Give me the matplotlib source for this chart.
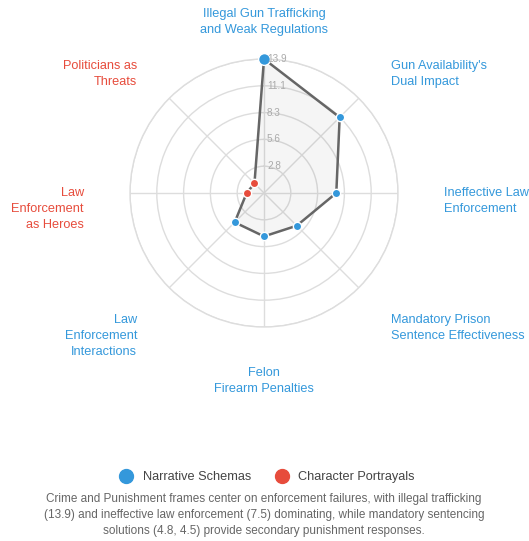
import numpy as np
import matplotlib
matplotlib.use("Agg")
import matplotlib.pyplot as plt
from matplotlib.lines import Line2D
import matplotlib.transforms as mtransforms

plt.rcParams['font.family'] = ['Liberation Sans', 'DejaVu Sans']

categories = [
    "Illegal Gun Trafficking\nand Weak Regulations",
    "Gun Availability's\nDual Impact",
    "Ineffective Law\nEnforcement",
    "Mandatory Prison\nSentence Effectiveness",
    "Felon\nFirearm Penalties",
    "Law\nEnforcement\nInteractions",
    "Law\nEnforcement\nas Heroes",
    "Politicians as\nThreats",
]
values = [13.9, 11.1, 7.5, 4.8, 4.5, 4.3, 1.8, 1.4]
groups = ["Narrative Schemas"] * 6 + ["Character Portrayals"] * 2
group_names = ["Narrative Schemas", "Character Portrayals"]
ring_values = [2.78, 5.56, 8.34, 11.12, 13.9]
caption = ("Crime and Punishment frames center on enforcement failures, with illegal trafficking\n"
           "(13.9) and ineffective law enforcement (7.5) dominating, while mandatory sentencing\n"
           "solutions (4.8, 4.5) provide secondary punishment responses.")

colors = {"Narrative Schemas": "#3498db", "Character Portrayals": "#e74c3c"}

W, H = 529, 541
fig = plt.figure(figsize=(W / 100, H / 100), dpi=100)
cx, cy, R = 264, 193, 134
ax = fig.add_axes([(cx - R) / W, (H - cy - R) / H, 2 * R / W, 2 * R / H], projection='polar')
ax.set_theta_offset(np.pi / 2)
ax.set_theta_direction(-1)
ax.set_ylim(0, 13.9)

n = len(categories)
theta = np.arange(n) * 2 * np.pi / n

# grid
ax.set_xticks(theta)
ax.set_xticklabels([])
ax.set_yticks(ring_values)
ax.set_yticklabels([])
ax.grid(True, color='#dddddd', linewidth=1.0)
ax.spines['polar'].set_color('#dddddd')
ax.spines['polar'].set_linewidth(1.0)
ax.set_facecolor('none')

tc = np.concatenate([theta, theta[:1]])
vc = np.concatenate([values, values[:1]])
ax.fill(tc, vc, color='#000000', alpha=0.04, zorder=2)
ax.plot(tc, vc, color='#666666', linewidth=1.8, zorder=3)
sizes = [8.5] + [6] * (n - 1)
for t, v, g, s in zip(theta, values, groups, sizes):
    ax.plot([t], [v], 'o', color=colors[g], markersize=s, markeredgecolor='white',
            markeredgewidth=1.0, zorder=4, clip_on=False)

# ring labels
off = mtransforms.offset_copy(ax.transData, fig=fig, x=3, y=0, units='dots')
for rv in ring_values:
    ax.text(0, rv, f"{rv:.1f}", transform=off, ha='left', va='center',
            fontsize=7.2, color='#aaaaaa', zorder=5)

# category labels (pixel layout)
label_pos = [
    (264, 22, 'center'),
    (391, 74, 'left'),
    (444, 201, 'left'),
    (391, 328, 'left'),
    (264, 381, 'center'),
    (137, 336, 'right'),
    (84, 209, 'right'),
    (137, 74, 'right'),
]
for cat, g, (px, py, ha) in zip(categories, groups, label_pos):
    fig.text(px / W, 1 - py / H, cat, ha=ha, va='center', fontsize=9.2,
             color=colors[g], linespacing=1.4, multialignment=ha)

handles = [Line2D([], [], marker='o', linestyle='none', markersize=10,
                  markerfacecolor=colors[g], markeredgecolor=colors[g]) for g in group_names]
fig.legend(handles, group_names, loc='center', bbox_to_anchor=(264 / W, 1 - 477 / H),
           ncol=2, frameon=False, fontsize=9.2, handletextpad=0.3, columnspacing=1.4,
           labelcolor='#444444')

fig.text(264 / W, 1 - 515 / H, caption, ha='center', va='center', fontsize=8.5,
         color='#666666', linespacing=1.45)

fig.savefig("out.png", dpi=100)
